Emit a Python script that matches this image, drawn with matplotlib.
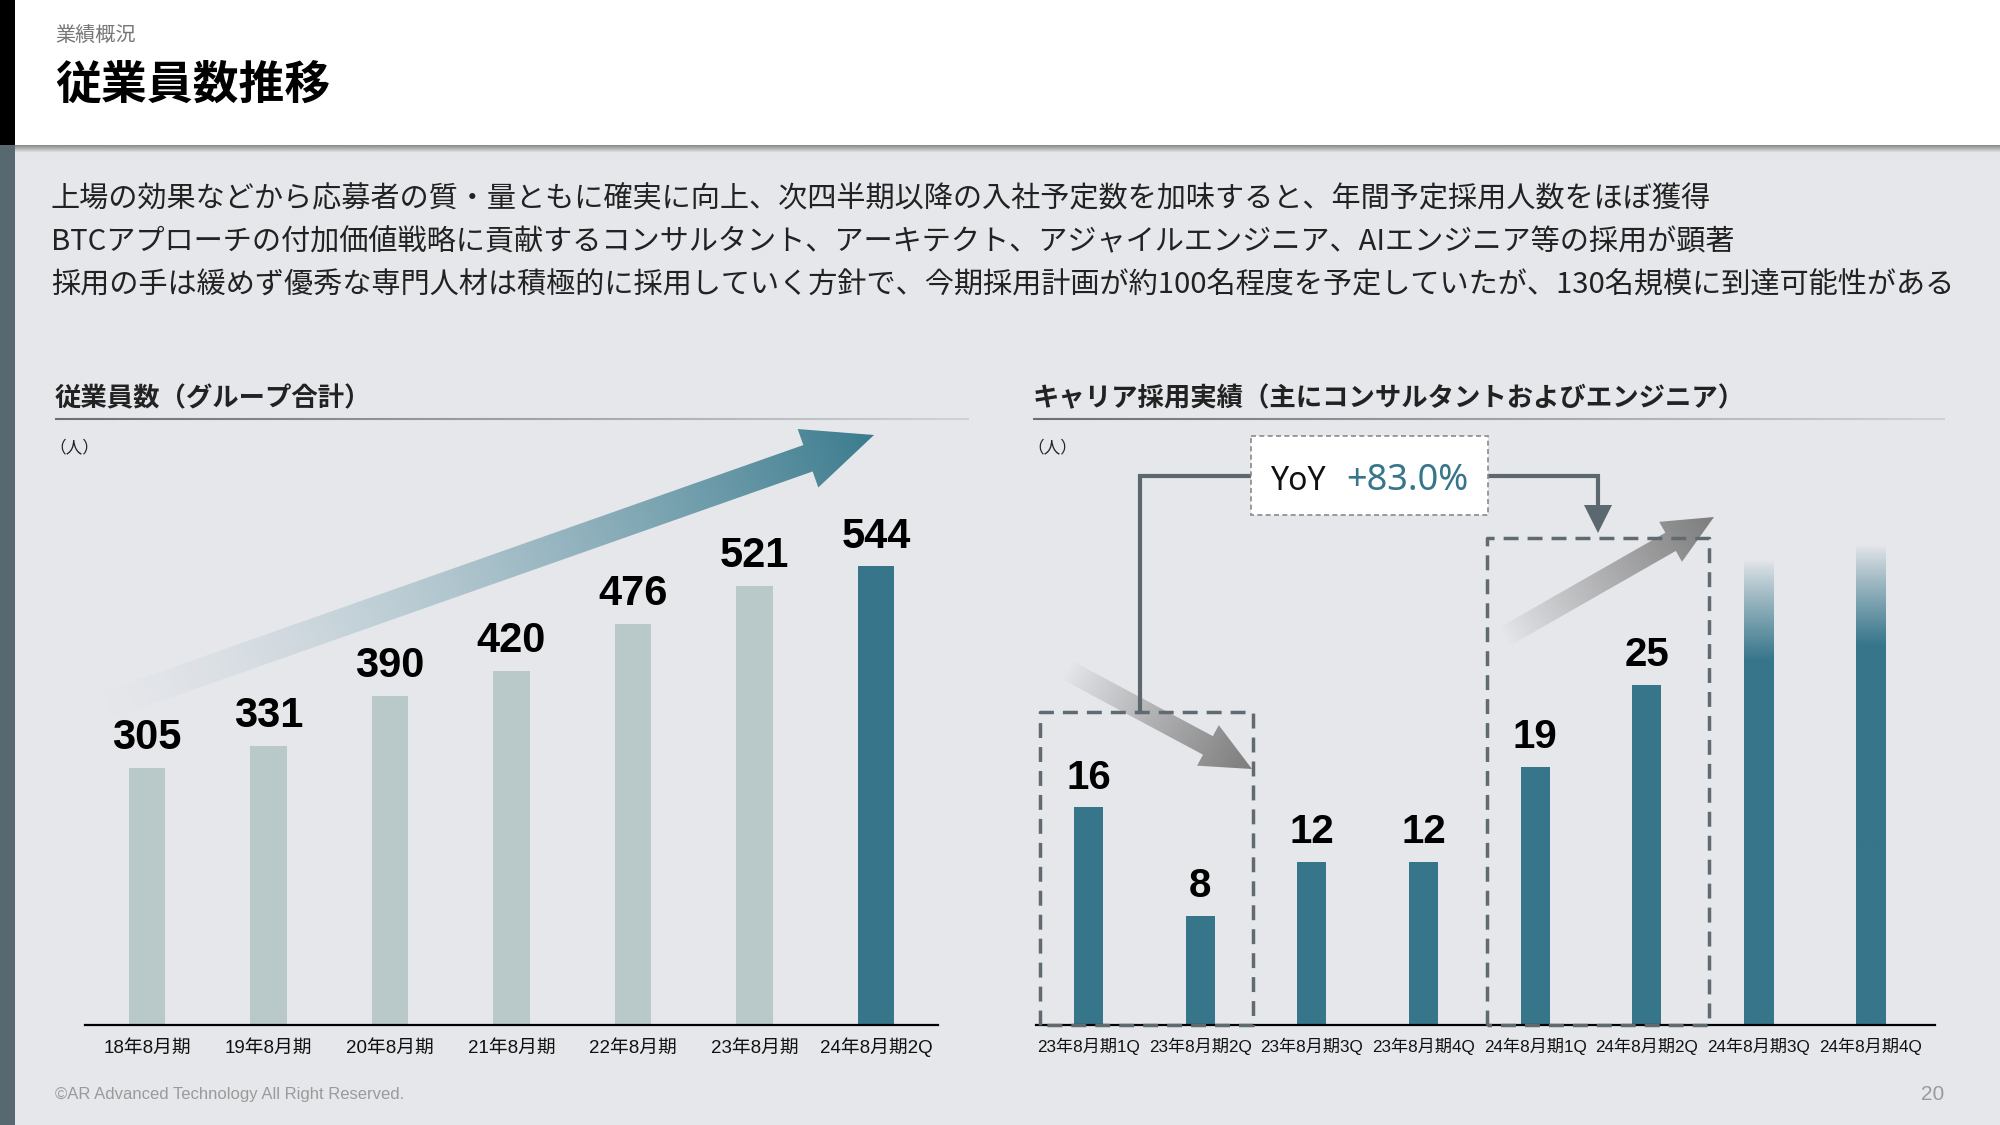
import numpy as np
import matplotlib
matplotlib.use('Agg')
import matplotlib.pyplot as plt
from matplotlib.patches import Polygon, Rectangle
from matplotlib.collections import LineCollection
from matplotlib.colors import to_rgb

plt.rcParams['font.family'] = ['Noto Sans CJK JP', 'DejaVu Sans']

# data
years = ['18年8月期', '19年8月期', '20年8月期', '21年8月期', '22年8月期', '23年8月期', '24年8月期2Q']
employees = [305, 331, 390, 420, 476, 521, 544]
quarters = ['23年8月期1Q', '23年8月期2Q', '23年8月期3Q', '23年8月期4Q',
            '24年8月期1Q', '24年8月期2Q', '24年8月期3Q', '24年8月期4Q']
hires = [16, 8, 12, 12, 19, 25]
hires_outlook = [34.2, 35.3]  # unlabeled fading bars for 3Q / 4Q
yoy = '+83.0%'

body_lines = [
    '上場の効果などから応募者の質・量ともに確実に向上、次四半期以降の入社予定数を加味すると、年間予定採用人数をほぼ獲得',
    'BTCアプローチの付加価値戦略に貢献するコンサルタント、アーキテクト、アジャイルエンジニア、AIエンジニア等の採用が顕著',
    '採用の手は緩めず優秀な専門人材は積極的に採用していく方針で、今期採用計画が約100名程度を予定していたが、130名規模に到達可能性がある',
]

BG = '#e6e7eb'
TEAL = '#36758a'
LIGHT = '#b9c9c9'
SLATE = '#586870'
LINE = '#5b6870'
NUM = ['Liberation Sans', 'Noto Sans CJK JP']

W, H = 2000, 1125
fig = plt.figure(figsize=(20, 11.25), dpi=100)
fig.patch.set_facecolor(BG)


def frac(x0, y0, x1, y1):
    return [x0 / W, 1 - y1 / H, (x1 - x0) / W, (y1 - y0) / H]


bg = fig.add_axes([0, 0, 1, 1], zorder=0)
bg.set_facecolor(BG)
bg.axis('off')


def grad_arrow(ax, tail, tip, shaft, head_w, head_len, color, power, z):
    tail = np.array(tail, float)
    tip = np.array(tip, float)
    d = tip - tail
    L = np.hypot(*d)
    u = d / L
    n = np.array([-u[1], u[0]])
    base = tip - u * head_len
    pts = [tail + n * shaft / 2, base + n * shaft / 2, base + n * head_w / 2, tip,
           base - n * head_w / 2, base - n * shaft / 2, tail - n * shaft / 2]
    poly = Polygon(pts, closed=True, fc='none', ec='none', transform=ax.transData)
    ax.add_patch(poly)
    xs = [p[0] for p in pts]
    ys = [p[1] for p in pts]
    x0, x1 = min(xs) - 2, max(xs) + 2
    y0, y1 = min(ys) - 2, max(ys) + 2
    X, Y = np.meshgrid(np.linspace(x0, x1, 400), np.linspace(y0, y1, 400))
    t = np.clip(((X - tail[0]) * u[0] + (Y - tail[1]) * u[1]) / L, 0, 1)
    rgba = np.zeros(X.shape + (4,))
    rgba[..., :3] = to_rgb(color)
    rgba[..., 3] = t ** power
    im = ax.imshow(rgba, extent=(x0, x1, y1, y0), origin='upper', aspect='auto',
                   zorder=z, interpolation='bilinear')
    im.set_clip_path(poly)


# header and side stripe
bg.add_patch(Rectangle((15, 0), W, 145, fc='white', ec='none', zorder=1))
bg.add_patch(Rectangle((0, 0), 15, 145, fc='black', ec='none', zorder=2))
bg.add_patch(Rectangle((0, 145), 15, H, fc=SLATE, ec='none', zorder=2))
sh = np.zeros((10, 2, 4))
sh[..., :3] = to_rgb('#808080')
sh[..., 3] = np.linspace(0.9, 0, 10)[:, None]
bg.imshow(sh, extent=(15, W, 153, 145), origin='upper', aspect='auto', zorder=1)

bg.text(55, 36, '業績概況', fontsize=14.5, color='#777777', va='center')
bg.text(55, 86, '従業員数推移', fontsize=33, fontweight='bold', color='black', va='center')
for i, line in enumerate(body_lines):
    bg.text(51, 199 + 43 * i, line, fontsize=21, color='#222222', va='center')

# chart subtitles
for x0, x1, title in [(55, 969, '従業員数（グループ合計）'),
                      (1033, 1945, 'キャリア採用実績（主にコンサルタントおよびエンジニア）')]:
    bg.text(x0, 399, title, fontsize=19, fontweight='bold', color='#222222', va='center')
    xs = np.linspace(x0, x1, 60)
    segs = [[(xs[k], 419), (xs[k + 1], 419)] for k in range(len(xs) - 1)]
    c0, c1 = np.array(to_rgb('#6b6e73')), np.array(to_rgb('#d0d2d5'))
    cols = [c0 + (c1 - c0) * k / (len(segs) - 1) for k in range(len(segs))]
    bg.add_collection(LineCollection(segs, colors=cols, linewidths=1.5, zorder=2))
    bg.text(x0 - 6, 448, '（人）', fontsize=12, color='#222222', va='center')

# decorative arrows
grad_arrow(bg, (88, 712), (874, 435), 28, 62, 70, '#3a7b8e', 1.5, 2)
grad_arrow(bg, (1067, 670), (1252, 769), 21, 46, 50, '#7c7c7c', 0.9, 2)
grad_arrow(bg, (1504, 637), (1714, 517), 21, 46, 50, '#7c7c7c', 0.9, 2)

# YoY box and connector
bg.add_patch(Rectangle((1251, 436), 237, 79, fc='white', ec='#8a8a8a', lw=1.2,
                       linestyle=(0, (3, 2)), zorder=4))
bg.text(1271, 481, 'YoY', fontsize=23, family='Noto Sans', color='#111111', va='center', zorder=5)
bg.text(1468, 481, yoy, fontsize=26, family='Noto Sans', color=TEAL, va='center', ha='right',
        fontweight='medium', zorder=5)
bg.plot([1140, 1140, 1251], [712, 476, 476], color=LINE, lw=3, zorder=3, solid_joinstyle='miter')
bg.plot([1488, 1598, 1598], [476, 476, 508], color=LINE, lw=3, zorder=3, solid_joinstyle='miter')
bg.add_patch(Polygon([(1584, 505), (1612, 505), (1598, 533)], fc=LINE, ec='none', zorder=3))

# footer
bg.text(55, 1095, '©AR Advanced Technology All Right Reserved.', fontsize=12, family=NUM,
        color='#9a9a9a', va='center')
bg.text(1944, 1095, '20', fontsize=15, family=NUM, color='#9a9a9a', va='center', ha='right')

bg.set_xlim(0, W)
bg.set_ylim(H, 0)

# left chart: employees
ax1 = fig.add_axes(frac(85, 425, 938, 1025), zorder=1)
ax1.patch.set_alpha(0)
x1 = np.arange(len(employees))
colors1 = [LIGHT] * (len(employees) - 1) + [TEAL]
ax1.bar(x1, employees, width=0.3, color=colors1, zorder=2)
for i, v in enumerate(employees):
    ax1.annotate(str(v), (i, v), xytext=(0, 21.5), textcoords='offset points', ha='center',
                 va='center', fontsize=30, fontweight='bold', family=NUM, color='black')
ax1.set_xticks(x1, years)
ax1.set_xlim(-0.51, 6.51)
ax1.set_ylim(0, 600 / 0.843)

# right chart: career hires
ax2 = fig.add_axes(frac(1036, 425, 1935, 1025), zorder=1)
ax2.patch.set_alpha(0)
x2 = np.arange(len(hires))
ax2.bar(x2, hires, width=0.26, color=TEAL, zorder=2)
for i, v in enumerate(hires):
    ax2.annotate(str(v), (i, v), xytext=(0, 21.5), textcoords='offset points', ha='center',
                 va='center', fontsize=29, fontweight='bold', family=NUM, color='black')
fade = 7.4
for k, h in enumerate(hires_outlook):
    xc = len(hires) + k
    yy = np.linspace(0, h, 300)
    g = np.zeros((300, 2, 4))
    g[..., :3] = to_rgb(TEAL)
    g[..., 3] = (np.clip((h - yy) / fade, 0, 1) ** 0.9)[:, None]
    ax2.imshow(g, extent=(xc - 0.13, xc + 0.13, 0, h), origin='lower', aspect='auto',
               zorder=2, interpolation='bilinear')
ax2.set_xticks(np.arange(len(quarters)), quarters)
ax2.set_xlim(-0.47, 7.58)
ax2.set_ylim(0, 600 / 13.6)

# dashed boxes around compared quarters
for bx0, bx1, top in [(-0.43, 1.47, 23.0), (3.57, 5.56, 35.8)]:
    ax2.plot([bx0, bx0, bx1, bx1, bx0], [0, top, top, 0, 0], color='#5f6b70', lw=2.5,
             linestyle=(0, (4.3, 2.6)), clip_on=False, zorder=5)

for ax, fs, pad in [(ax1, 13.5, 20), (ax2, 12.3, 19.5)]:
    for s in ['top', 'right', 'left']:
        ax.spines[s].set_visible(False)
    ax.spines['bottom'].set_color('black')
    ax.spines['bottom'].set_linewidth(1.6)
    ax.set_yticks([])
    ax.tick_params(axis='x', length=0, pad=pad)
    for lab in ax.get_xticklabels():
        lab.set_fontsize(fs)
        lab.set_family(NUM)
        lab.set_color('#111111')
        lab.set_verticalalignment('baseline')

fig.savefig('out.png', dpi=100, facecolor=BG)
